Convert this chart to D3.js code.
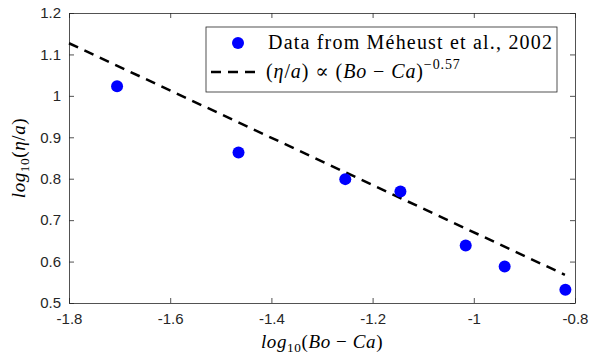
<!DOCTYPE html>
<html>
<head>
<meta charset="utf-8">
<script src="https://cdn.jsdelivr.net/npm/d3@7"></script>
<style>
  body { margin: 0; background: #fff; }
  .tick text { font-family: "Liberation Sans", Arial, sans-serif; font-size: 15px; fill: #262626; }
  .math { font-family: "Liberation Serif", "DejaVu Serif", serif; fill: #000; }
</style>
</head>
<body>
<div id="myChart"></div>
<script>
// measured points (log10 values)
const logBoCa = [-1.705, -1.465, -1.254, -1.145, -1.016, -0.939, -0.819];
const logEtaA = [1.023, 0.863, 0.799, 0.769, 0.639, 0.588, 0.532];

// fitted power law, slope -0.57
const fitX = [-1.8, -0.82];
const fitY = [1.127, 0.568];

const xTicks = [-1.8, -1.6, -1.4, -1.2, -1, -0.8];
const yTicks = [0.5, 0.6, 0.7, 0.8, 0.9, 1, 1.1, 1.2];

const width = 600, height = 354;
const margin = { top: 13, right: 25, bottom: 51, left: 69 };
const w = width - margin.left - margin.right;
const h = height - margin.top - margin.bottom;

const svg = d3.select('#myChart')
  .append('svg')
  .attr('width', width)
  .attr('height', height);

const g = svg.append('g')
  .attr('transform', 'translate(' + margin.left + ',' + margin.top + ')');

const x = d3.scaleLinear().domain([-1.8, -0.8]).range([0, w]);
const y = d3.scaleLinear().domain([0.5, 1.2]).range([h, 0]);

const fmt = d => String(d);
const axisColor = '#262626';

// bottom and left with labels, top and right mirrored without
g.append('g')
  .attr('transform', 'translate(0,' + h + ')')
  .call(d3.axisBottom(x).tickValues(xTicks).tickFormat(fmt).tickSizeInner(-5).tickSizeOuter(0).tickPadding(10));
g.append('g')
  .call(d3.axisLeft(y).tickValues(yTicks).tickFormat(fmt).tickSizeInner(-5).tickSizeOuter(0).tickPadding(8));
g.append('g')
  .call(d3.axisTop(x).tickValues(xTicks).tickFormat('').tickSizeInner(-5).tickSizeOuter(0));
g.append('g')
  .attr('transform', 'translate(' + w + ',0)')
  .call(d3.axisRight(y).tickValues(yTicks).tickFormat('').tickSizeInner(-5).tickSizeOuter(0));

g.selectAll('.domain, .tick line').attr('stroke', axisColor).attr('stroke-width', 0.8);

// fit line
const fitData = fitX.map((d, i) => ({ x: d, y: fitY[i] }));
g.append('path')
  .datum(fitData)
  .attr('fill', 'none')
  .attr('stroke', '#000')
  .attr('stroke-width', 2.5)
  .attr('stroke-dasharray', '10,7')
  .attr('d', d3.line().x(d => x(d.x)).y(d => y(d.y)));

// data points
const pts = logBoCa.map((d, i) => ({ x: d, y: logEtaA[i] }));
g.selectAll('circle.pt')
  .data(pts)
  .enter()
  .append('circle')
  .attr('class', 'pt')
  .attr('cx', d => x(d.x))
  .attr('cy', d => y(d.y))
  .attr('r', 6)
  .attr('fill', '#0000ff');

// helper for italic math pieces
function mathText(sel, parts) {
  parts.forEach(p => {
    const t = sel.append('tspan').text(p.t);
    if (p.i) t.attr('font-style', 'italic');
    if (p.small) t.attr('font-size', '0.7em');
    if (p.dy) t.attr('dy', p.dy);
  });
}

// axis labels
const xl = svg.append('text')
  .attr('class', 'math')
  .attr('x', margin.left + w / 2)
  .attr('y', 348)
  .attr('text-anchor', 'middle')
  .attr('font-size', 19)
  .attr('letter-spacing', 0.6);
mathText(xl, [
  { t: 'log', i: true },
  { t: '10', small: true, dy: 4 },
  { t: '(', dy: -4 },
  { t: 'Bo', i: true },
  { t: ' \u2212 ' },
  { t: 'Ca', i: true },
  { t: ')' }
]);

const yl = svg.append('text')
  .attr('class', 'math')
  .attr('transform', 'translate(25,' + (margin.top + h / 2) + ') rotate(-90)')
  .attr('text-anchor', 'middle')
  .attr('font-size', 19)
  .attr('letter-spacing', 0.6);
mathText(yl, [
  { t: 'log', i: true },
  { t: '10', small: true, dy: 4 },
  { t: '(', dy: -4 },
  { t: '\u03b7', i: true },
  { t: '/' },
  { t: 'a', i: true },
  { t: ')' }
]);

// legend
const lg = svg.append('g').attr('transform', 'translate(206,27)');
lg.append('rect')
  .attr('width', 351)
  .attr('height', 65)
  .attr('fill', '#fff')
  .attr('stroke', axisColor)
  .attr('stroke-width', 0.8);
lg.append('circle')
  .attr('cx', 32)
  .attr('cy', 16)
  .attr('r', 6)
  .attr('fill', '#0000ff');
lg.append('text')
  .attr('class', 'math')
  .attr('x', 62)
  .attr('y', 22)
  .attr('font-size', 20)
  .attr('textLength', 284)
  .attr('lengthAdjust', 'spacing')
  .text('Data from M\u00e9heust et al., 2002');
lg.append('line')
  .attr('x1', 5).attr('x2', 56)
  .attr('y1', 45).attr('y2', 45)
  .attr('stroke', '#000')
  .attr('stroke-width', 2.5)
  .attr('stroke-dasharray', '10,7');
const lt = lg.append('text')
  .attr('class', 'math')
  .attr('x', 60)
  .attr('y', 51)
  .attr('font-size', 20)
  .attr('letter-spacing', 0.9);
mathText(lt, [
  { t: '(' },
  { t: '\u03b7', i: true },
  { t: '/' },
  { t: 'a', i: true },
  { t: ') \u221d (' },
  { t: 'Bo', i: true },
  { t: ' \u2212 ' },
  { t: 'Ca', i: true },
  { t: ')' },
  { t: '\u22120.57', small: true, dy: -9 }
]);
</script>
</body>
</html>
